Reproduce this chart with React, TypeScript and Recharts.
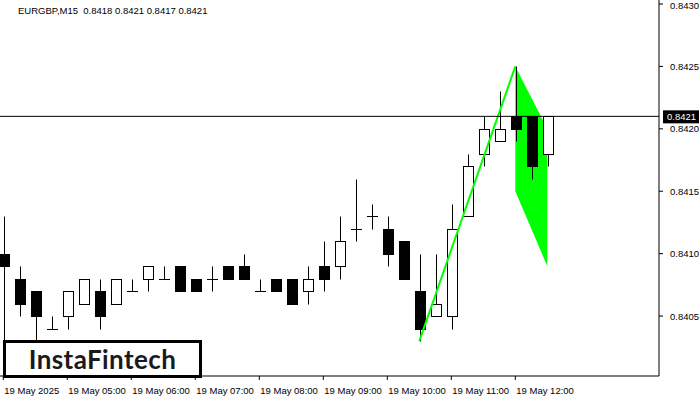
import React from "react";
import {
  ComposedChart,
  Bar,
  Line,
  Area,
  XAxis,
  YAxis,
  ReferenceLine,
} from "recharts";

// EURGBP M15, 04:00 .. 12:30
const times = [
  "04:00", "04:15", "04:30", "04:45", "05:00", "05:15", "05:30", "05:45",
  "06:00", "06:15", "06:30", "06:45", "07:00", "07:15", "07:30", "07:45",
  "08:00", "08:15", "08:30", "08:45", "09:00", "09:15", "09:30", "09:45",
  "10:00", "10:15", "10:30", "10:45", "11:00", "11:15", "11:30", "11:45",
  "12:00", "12:15", "12:30",
];
const opens = [
  0.8410, 0.8408, 0.8407, 0.8404, 0.8405, 0.8406, 0.8407, 0.8406, 0.8407,
  0.8408, 0.8408, 0.8409, 0.8408, 0.8408, 0.8409, 0.8409, 0.8407, 0.8408,
  0.8408, 0.8407, 0.8409, 0.8409, 0.8412, 0.8413, 0.8412, 0.8411, 0.8407,
  0.8405, 0.8405, 0.8413, 0.8418, 0.8419, 0.8421, 0.8421, 0.8418,
];
const highs = [
  0.8413, 0.8409, 0.8407, 0.8405, 0.8407, 0.8408, 0.8408, 0.8408, 0.8408,
  0.8409, 0.8409, 0.8409, 0.8408, 0.8409, 0.8409, 0.8410, 0.8408, 0.8408,
  0.8408, 0.8409, 0.8411, 0.8413, 0.8416, 0.8414, 0.8413, 0.8411, 0.8410,
  0.8410, 0.8414, 0.8418, 0.8421, 0.8423, 0.8425, 0.8421, 0.8421,
];
const lows = [
  0.8403, 0.8405, 0.8403, 0.8404, 0.8404, 0.8406, 0.8404, 0.8406, 0.8407,
  0.8407, 0.8408, 0.8407, 0.8407, 0.8407, 0.8408, 0.8408, 0.8407, 0.8407,
  0.8406, 0.8406, 0.8407, 0.8408, 0.8411, 0.8412, 0.8409, 0.8408, 0.8403,
  0.8405, 0.8404, 0.8413, 0.8417, 0.8419, 0.8419, 0.8416, 0.8417,
];
const closes = [
  0.8409, 0.8406, 0.8405, 0.8404, 0.8407, 0.8408, 0.8405, 0.8408, 0.8407,
  0.8409, 0.8408, 0.8407, 0.8407, 0.8408, 0.8408, 0.8408, 0.8407, 0.8407,
  0.8406, 0.8408, 0.8408, 0.8411, 0.8412, 0.8413, 0.8410, 0.8408, 0.8404,
  0.8406, 0.8412, 0.8417, 0.8420, 0.8420, 0.8420, 0.8417, 0.8421,
];

// bullish flag: pole from the 10:30 low to the 12:00 high, flag to 12:30
const poleStart = { time: "10:30", price: 0.8403 };
const poleEnd = { time: "12:00", price: 0.8425 };
const flagTimes = ["12:00", "12:30"];
const flagTop = [0.8425, 0.8420];
const flagBottom = [0.8415, 0.8409];

const currentPrice = 0.8421;
const yTicks = [0.8405, 0.841, 0.8415, 0.842, 0.8425, 0.843];
const xTickTimes = ["04:00", "05:00", "06:00", "07:00", "08:00", "09:00", "10:00", "11:00", "12:00"];
const xTickLabels = [
  "19 May 2025", "19 May 05:00", "19 May 06:00", "19 May 07:00", "19 May 08:00",
  "19 May 09:00", "19 May 10:00", "19 May 11:00", "19 May 12:00",
];

const data = times.map((t, i) => {
  const fi = flagTimes.indexOf(t);
  return {
    i,
    time: t,
    open: opens[i],
    high: highs[i],
    low: lows[i],
    close: closes[i],
    range: [lows[i], highs[i]],
    pole: t === poleStart.time ? poleStart.price : t === poleEnd.time ? poleEnd.price : null,
    flag: fi >= 0 ? [flagBottom[fi], flagTop[fi]] : null,
  };
});

const FONT = "'Liberation Sans', Arial, sans-serif";

const Candle = (props: any) => {
  const { x, y, width, height, payload } = props;
  if (!payload || height == null) return null;
  const { open, close, high, low } = payload;
  const top = Math.min(y, y + height);
  const h = Math.abs(height);
  const yOf = (p: number) => top + ((high - p) / (high - low)) * h;
  const cx = Math.round(x + width / 2) + 0.5;
  const yo = Math.round(yOf(open)) + 0.5;
  const yc = Math.round(yOf(close)) + 0.5;
  const yh = Math.round(yOf(high)) + 0.5;
  const yl = Math.round(yOf(low)) + 0.5;
  const bull = close > open;
  const doji = Math.abs(close - open) < 1e-7;
  return (
    <g>
      <line x1={cx} x2={cx} y1={yh} y2={yl} stroke="#000" strokeWidth={1} />
      {doji ? (
        <line x1={cx - 5.5} x2={cx + 5.5} y1={yo} y2={yo} stroke="#000" strokeWidth={1} />
      ) : (
        <rect
          x={cx - 5}
          y={Math.min(yo, yc)}
          width={10}
          height={Math.abs(yc - yo)}
          fill={bull ? "#fff" : "#000"}
          stroke="#000"
          strokeWidth={1}
        />
      )}
    </g>
  );
};

const XTick = (props: any) => {
  const { x, y, payload } = props;
  const k = xTickTimes.indexOf(times[payload.value]);
  return (
    <text x={x + 1} y={y + 12} textAnchor="start" fontSize={9.5} fontFamily={FONT} fill="#000">
      {xTickLabels[k]}
    </text>
  );
};

const YTick = (props: any) => {
  const { x, y, payload } = props;
  // keep the top label inside the picture
  const ty = Math.max(y + 3.5, 9);
  return (
    <text x={x + 5} y={ty} textAnchor="start" fontSize={9.5} fontFamily={FONT} fill="#000">
      {payload.value.toFixed(4)}
    </text>
  );
};

const PriceTag = (props: any) => {
  const vb = props.viewBox;
  if (!vb) return null;
  const x0 = vb.x + vb.width + 4;
  return (
    <g>
      <rect x={x0} y={vb.y - 6} width={36} height={13} fill="#000" />
      <text x={x0 + 4} y={vb.y + 3.5} fontSize={9.5} fontFamily={FONT} fill="#fff">
        {currentPrice.toFixed(4)}
      </text>
    </g>
  );
};

export default function App() {
  return (
    <div style={{ position: "absolute", left: 0, top: 0, width: 700, height: 400, background: "#fff" }}>
      <ComposedChart
        width={700}
        height={400}
        data={data}
        margin={{ top: 0, right: 0, bottom: 0, left: 0 }}
      >
        <XAxis
          dataKey="i"
          type="number"
          domain={[-0.206, 40.98]}
          allowDataOverflow
          ticks={xTickTimes.map((t) => times.indexOf(t))}
          height={24}
          axisLine={{ stroke: "#000" }}
          tickLine={{ stroke: "#000" }}
          tickSize={4}
          tick={<XTick />}
          interval={0}
        />
        <YAxis
          orientation="right"
          type="number"
          domain={[0.84002, 0.843032]}
          allowDataOverflow
          ticks={yTicks}
          width={41}
          axisLine={{ stroke: "#000" }}
          tickLine={{ stroke: "#000" }}
          tickSize={4}
          tick={<YTick />}
          interval={0}
        />
        <Area
          dataKey="flag"
          type="linear"
          connectNulls
          fill="#00ff00"
          fillOpacity={1}
          stroke="none"
          dot={false}
          activeDot={false}
          isAnimationActive={false}
        />
        <Bar dataKey="range" barSize={11} shape={<Candle />} isAnimationActive={false} />
        <Line
          dataKey="pole"
          type="linear"
          connectNulls
          stroke="#00ff00"
          strokeWidth={2}
          dot={false}
          activeDot={false}
          isAnimationActive={false}
        />
        <ReferenceLine y={currentPrice} stroke="#000" strokeWidth={1} label={<PriceTag />} />
      </ComposedChart>
      <div
        style={{
          position: "absolute",
          left: 18,
          top: 5,
          fontFamily: FONT,
          fontSize: 9.5,
          lineHeight: "12px",
          color: "#000",
          whiteSpace: "pre",
        }}
      >
        {"EURGBP,M15  0.8418 0.8421 0.8417 0.8421"}
      </div>
      <div
        style={{
          position: "absolute",
          left: 3,
          top: 340,
          width: 193,
          height: 32,
          border: "3px solid #000",
          background: "#fff",
          display: "flex",
          alignItems: "center",
          justifyContent: "center",
          fontFamily: "Lato, 'Noto Sans', sans-serif",
          fontSize: 26,
          fontWeight: 700,
          color: "#1a1a1a",
          letterSpacing: 0.4,
        }}
      >
        InstaFintech
      </div>
    </div>
  );
}
